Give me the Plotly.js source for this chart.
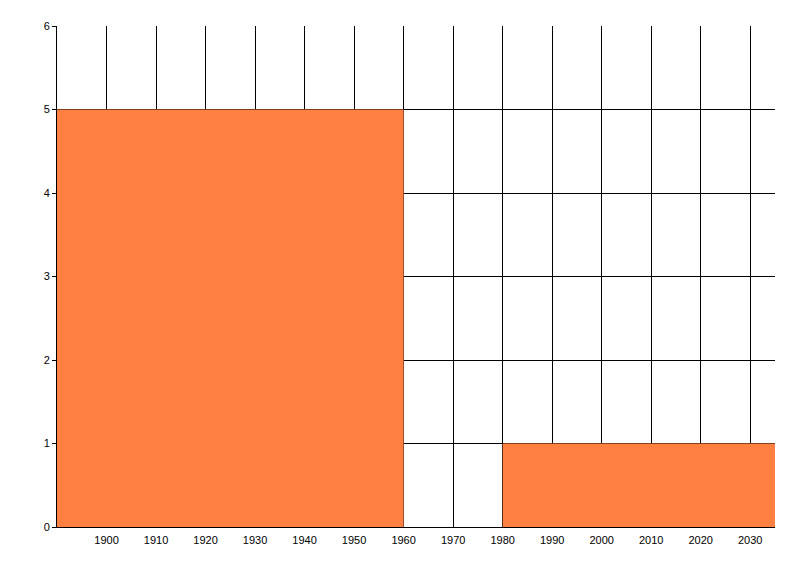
<!DOCTYPE html>
<html>
<head>
<meta charset="utf-8">
<script src="https://cdn.plot.ly/plotly-3.0.1.min.js"></script>
<style>html,body{margin:0;padding:0;background:#fff;}#chart{width:800px;height:576px;}</style>
</head>
<body>
<div id="chart"></div>
<script>
// Step boundaries (year where each step starts) and step values
const years = [1890, 1960, 1980, 2035];
const values = [5, 0, 1, 1];
const xTickVals = [1900, 1910, 1920, 1930, 1940, 1950, 1960, 1970, 1980, 1990, 2000, 2010, 2020, 2030];
const yTickVals = [0, 1, 2, 3, 4, 5, 6];

const trace = {
  x: years,
  y: values,
  type: 'scatter',
  mode: 'lines',
  line: {shape: 'hv', width: 0, color: 'rgb(255,128,64)'},
  fill: 'tozeroy',
  fillcolor: 'rgb(255,128,64)',
  hoverinfo: 'skip'
};

const layout = {
  width: 800, height: 576,
  margin: {l: 57, r: 25, t: 26, b: 49},
  paper_bgcolor: '#fff', plot_bgcolor: '#fff',
  showlegend: false,
  font: {family: 'Liberation Sans, Arial, sans-serif', size: 11, color: '#000'},
  xaxis: {
    range: [1890, 2035], tickmode: 'array', tickvals: xTickVals, ticktext: xTickVals.map(String),
    showgrid: true, gridcolor: '#000', gridwidth: 1,
    showline: true, linecolor: '#000', linewidth: 1,
    ticks: 'outside', ticklen: 3, tickcolor: 'rgba(0,0,0,0)',
    zeroline: false, fixedrange: true
  },
  yaxis: {
    range: [0, 6], tickmode: 'array', tickvals: yTickVals, ticktext: yTickVals.map(String),
    showgrid: true, gridcolor: '#000', gridwidth: 1,
    showline: true, linecolor: '#000', linewidth: 1,
    ticks: 'outside', ticklen: 4, tickcolor: '#000', tickwidth: 1,
    zeroline: false, fixedrange: true
  }
};

Plotly.newPlot('chart', [trace], layout, {displayModeBar: false, staticPlot: true});
</script>
</body>
</html>
